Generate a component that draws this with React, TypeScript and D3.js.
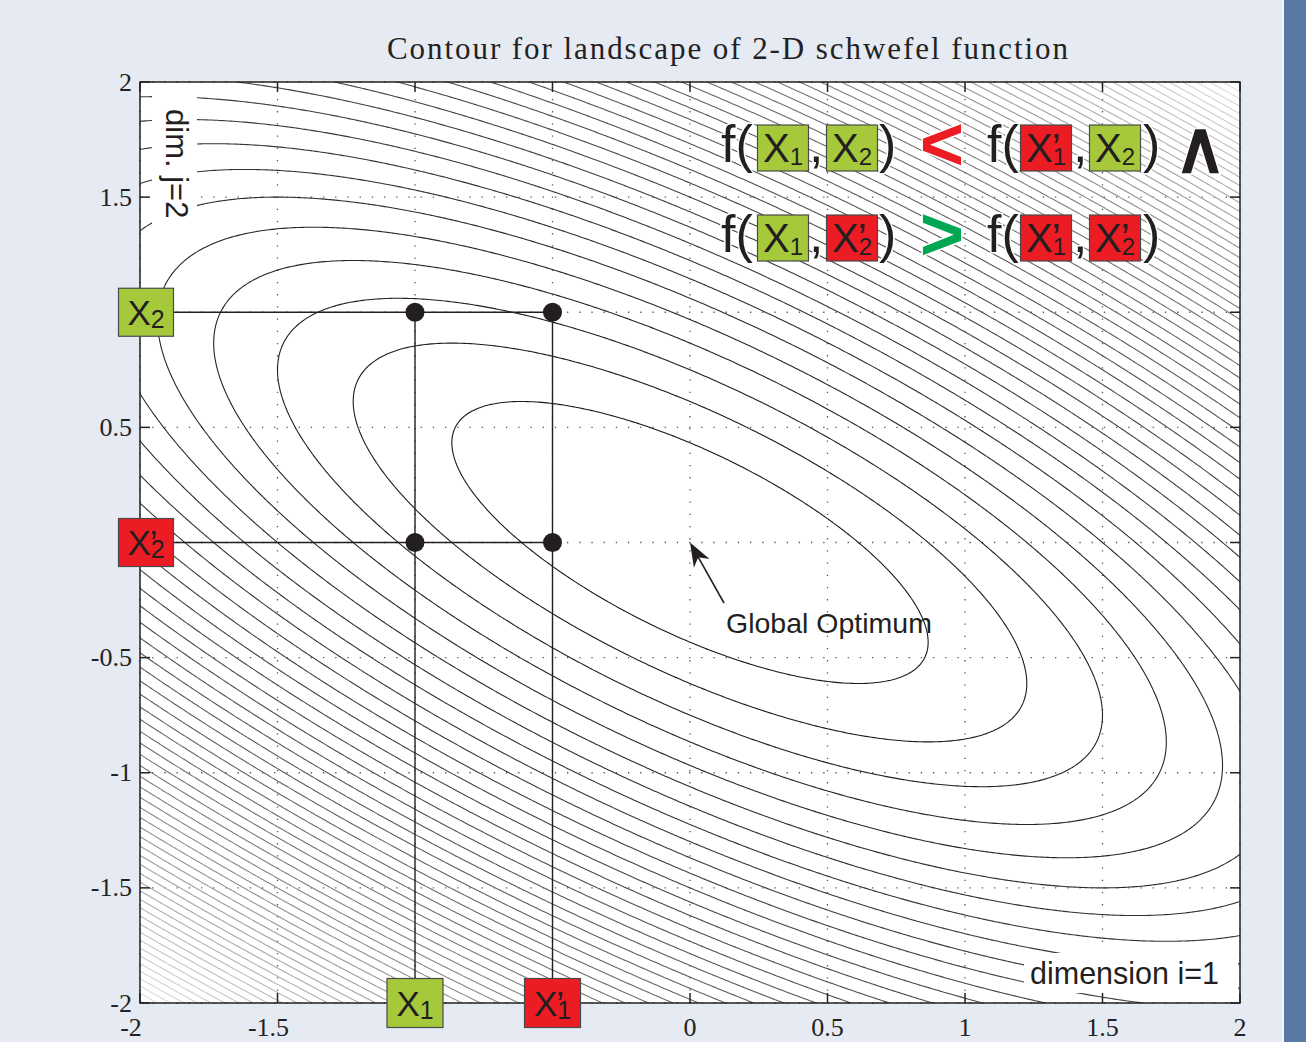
import React, { useMemo } from 'react'
import * as d3 from 'd3'

const W = 1306
const H = 1042

const xTicks = [-2, -1.5, -1, -0.5, 0, 0.5, 1, 1.5, 2]
const yTicks = [-2, -1.5, -1, -0.5, 0, 0.5, 1, 1.5, 2]
// labels under the X boxes are hidden in the original
const xTickLabels = ['-2', '-1.5', '', '', '0', '0.5', '1', '1.5', '2']
const yTickLabels = ['-2', '-1.5', '-1', '-0.5', '', '0.5', '', '1.5', '2']

// the two candidate values per dimension
const X1 = -1
const X1p = -0.5
const X2 = 1
const X2p = 0
const probes = [[X1, X2], [X1p, X2], [X1, X2p], [X1p, X2p]]

// contour levels of the surface
const levelStep = 0.375
const levelMax = 20

// 2-D schwefel (problem 1.2) surface
const schwefel = (a, b) => (a + b) * (a + b) + b * b

const GREEN = '#a5c93b'
const RED = '#ec1c24'
const SANS = 'Liberation Sans, Arial, sans-serif'
const SERIF = 'Liberation Serif, Times New Roman, serif'
const INK = '#231f20'

function VarBox({ cx, cy, w, h, fill, prime, sub, size, subSize }) {
    const xw = size * 0.667
    const x0 = -w / 2 + (w - xw - subSize * 0.556) / 2
    const base = size * 0.36
    return (
        <g transform={`translate(${cx},${cy})`}>
            <rect x={-w / 2} y={-h / 2} width={w} height={h} fill={fill} stroke="#4a4a4a" strokeWidth={1.2} />
            <text x={x0} y={base} fontSize={size} fontFamily={SANS} fill={INK}>
                X
                {prime && <tspan dx={-1}>’</tspan>}
                <tspan dx={prime ? -(size * 0.222 - 1) : 0} dy={3} fontSize={subSize}>{sub}</tspan>
            </text>
        </g>
    )
}

function FormulaRow({ cy, left, right, op, opColor, tail }) {
    const fs = 52
    const base = cy + 13.5
    const txt = (xx, s) => <text x={xx} y={base} fontSize={fs} fontFamily={SANS} fill={INK}
        stroke="white" strokeWidth={3} paintOrder="stroke">{s}</text>
    const box = (cx, b) => <VarBox cx={cx} cy={cy} w={51} h={46} fill={b.fill} prime={b.prime} sub={b.sub} size={40} subSize={24} />
    return (
        <g>
            {txt(721, 'f(')}
            {box(783, left[0])}
            {txt(809, ',')}
            {box(852, left[1])}
            {txt(879, ')')}
            <text x={942} y={cy + 22} textAnchor="middle" fontSize={76} fontWeight="bold" fontFamily={SANS} fill={opColor}
                stroke="white" strokeWidth={3} paintOrder="stroke">{op}</text>
            {txt(987, 'f(')}
            {box(1046, right[0])}
            {txt(1073, ',')}
            {box(1115, right[1])}
            {txt(1143, ')')}
            {tail && <text x={1200} y={cy + 24} textAnchor="middle" fontSize={72} fontWeight="bold" fontFamily={SANS} fill={INK}
                stroke="white" strokeWidth={3} paintOrder="stroke">{tail}</text>}
        </g>
    )
}

export default function App() {
    const x = d3.scaleLinear().domain([-2, 2]).range([140, 1240])
    const y = d3.scaleLinear().domain([-2, 2]).range([1003, 82])

    const contourPaths = useMemo(() => {
        const n = 401
        const step = 4 / (n - 1)
        const values = new Float64Array(n * n)
        for (let j = 0; j < n; j++)
            for (let i = 0; i < n; i++)
                values[j * n + i] = schwefel(-2 + i * step, 2 - j * step)
        const levels = d3.range(levelStep, levelMax, levelStep)
        const proj = d3.geoTransform({
            point(px, py) {
                this.stream.point(x(-2 + (px - 0.5) * step), y(2 - (py - 0.5) * step))
            }
        })
        const path = d3.geoPath(proj)
        return d3.contours().size([n, n]).thresholds(levels)(values)
            .map(c => ({ value: c.value, d: path(c) }))
    }, [])

    const gray = d3.scaleLinear().domain([0, levelMax]).range(['#151515', '#e4e4e4'])

    const [xl, xr] = x.range()
    const [yb, yt] = y.range()
    const tick = 10

    const green = { fill: GREEN, prime: false }
    const red = { fill: RED, prime: true }

    const tipX = x(0), tipY = y(0)
    const tailX = 724, tailY = 603
    const ang = Math.atan2(tipY - tailY, tipX - tailX)
    const hl = 24, hw = 9
    const head = [
        [tipX, tipY],
        [tipX - hl * Math.cos(ang) + hw * Math.sin(ang), tipY - hl * Math.sin(ang) - hw * Math.cos(ang)],
        [tipX - hl * 0.7 * Math.cos(ang), tipY - hl * 0.7 * Math.sin(ang)],
        [tipX - hl * Math.cos(ang) - hw * Math.sin(ang), tipY - hl * Math.sin(ang) + hw * Math.cos(ang)],
    ]

    return (
        <svg width={W} height={H} style={{ position: 'absolute', left: 0, top: 0, display: 'block' }}>
            <defs>
                <clipPath id="plotClip">
                    <rect x={xl} y={yt} width={xr - xl} height={yb - yt} />
                </clipPath>
            </defs>
            <rect width={W} height={H} fill="#e6eaf2" />
            <rect x={1282} y={0} width={2} height={H} fill="#f4f6fa" />
            <rect x={1284} y={0} width={W - 1284} height={H} fill="#5a79a7" />

            <text x={387} y={59} fontSize={31} fontFamily={SERIF} fill="#222" textLength={681} lengthAdjust="spacing">
                Contour for landscape of 2-D schwefel function
            </text>

            <rect x={xl} y={yt} width={xr - xl} height={yb - yt} fill="white" />

            {/* dotted grid */}
            <g stroke="#555" strokeWidth={1.3} strokeDasharray="1.3 10.9">
                {xTicks.map(t => <line key={'gx' + t} x1={x(t)} x2={x(t)} y1={yb} y2={yt} />)}
                {yTicks.map(t => <line key={'gy' + t} x1={xl} x2={xr} y1={y(t)} y2={y(t)} />)}
            </g>

            <g clipPath="url(#plotClip)" fill="none" strokeWidth={1.1}>
                {contourPaths.map(c => <path key={c.value} d={c.d} stroke={gray(c.value)} />)}
            </g>

            {/* white boxes behind axis labels inside the plot */}
            <rect x={152} y={84} width={45} height={142} fill="white" />
            <text transform={`translate(166,109) rotate(90)`} fontSize={31} fontFamily={SANS} fill={INK}>dim. j=2</text>
            <rect x={1024} y={953} width={214} height={40} fill="white" />
            <text x={1030} y={984} fontSize={30.5} fontFamily={SANS} fill={INK}>dimension i=1</text>

            {/* probe lines */}
            <g stroke={INK} strokeWidth={1.4}>
                {[X2, X2p].map(v => <line key={'h' + v} x1={173} x2={x(X1p)} y1={y(v)} y2={y(v)} />)}
                {[X1, X1p].map(v => <line key={'v' + v} x1={x(v)} x2={x(v)} y1={y(X2)} y2={yb - 24} />)}
            </g>
            {probes.map(([a, b]) => <circle key={a + '_' + b} cx={x(a)} cy={y(b)} r={9.5} fill={INK} />)}

            {/* global optimum arrow */}
            <line x1={tailX} y1={tailY} x2={tipX - hl * 0.7 * Math.cos(ang)} y2={tipY - hl * 0.7 * Math.sin(ang)} stroke={INK} strokeWidth={1.6} />
            <polygon points={head.map(p => p.join(',')).join(' ')} fill={INK} />
            <text x={726} y={633} fontSize={28.5} fontFamily={SANS} fill={INK}>Global Optimum</text>

            {/* axes box and ticks */}
            <g stroke="#222" strokeWidth={1.5} fill="none">
                <rect x={xl} y={yt} width={xr - xl} height={yb - yt} />
                {xTicks.map(t => <g key={'tx' + t}>
                    <line x1={x(t)} x2={x(t)} y1={yb} y2={yb - tick} />
                    <line x1={x(t)} x2={x(t)} y1={yt} y2={yt + tick} />
                </g>)}
                {yTicks.map(t => <g key={'ty' + t}>
                    <line x1={xl} x2={xl + tick} y1={y(t)} y2={y(t)} />
                    <line x1={xr} x2={xr - tick} y1={y(t)} y2={y(t)} />
                </g>)}
            </g>
            <g fontFamily={SERIF} fontSize={26} fill="#222">
                {xTicks.map((t, i) => xTickLabels[i] && <text key={'lx' + t} x={x(t) + (t < 0 ? -9 : 0)} y={1036} textAnchor="middle">{xTickLabels[i]}</text>)}
                {yTicks.map((t, i) => yTickLabels[i] && <text key={'ly' + t} x={132} y={y(t)} dy="0.33em" textAnchor="end">{yTickLabels[i]}</text>)}
            </g>

            {/* variable boxes on the axes */}
            <VarBox cx={146} cy={y(X2)} w={55} h={48} fill={GREEN} prime={false} sub="2" size={35} subSize={25} />
            <VarBox cx={146} cy={y(X2p)} w={55} h={48} fill={RED} prime={true} sub="2" size={35} subSize={25} />
            <VarBox cx={x(X1)} cy={yb} w={56} h={49} fill={GREEN} prime={false} sub="1" size={35} subSize={25} />
            <VarBox cx={x(X1p)} cy={yb} w={56} h={49} fill={RED} prime={true} sub="1" size={35} subSize={25} />

            {/* separability conditions */}
            <FormulaRow cy={148} left={[{ ...green, sub: '1' }, { ...green, sub: '2' }]}
                right={[{ ...red, sub: '1' }, { ...green, sub: '2' }]} op="<" opColor={RED} tail="∧" />
            <FormulaRow cy={238} left={[{ ...green, sub: '1' }, { ...red, sub: '2' }]}
                right={[{ ...red, sub: '1' }, { ...red, sub: '2' }]} op=">" opColor="#00a651" tail={null} />
        </svg>
    )
}
